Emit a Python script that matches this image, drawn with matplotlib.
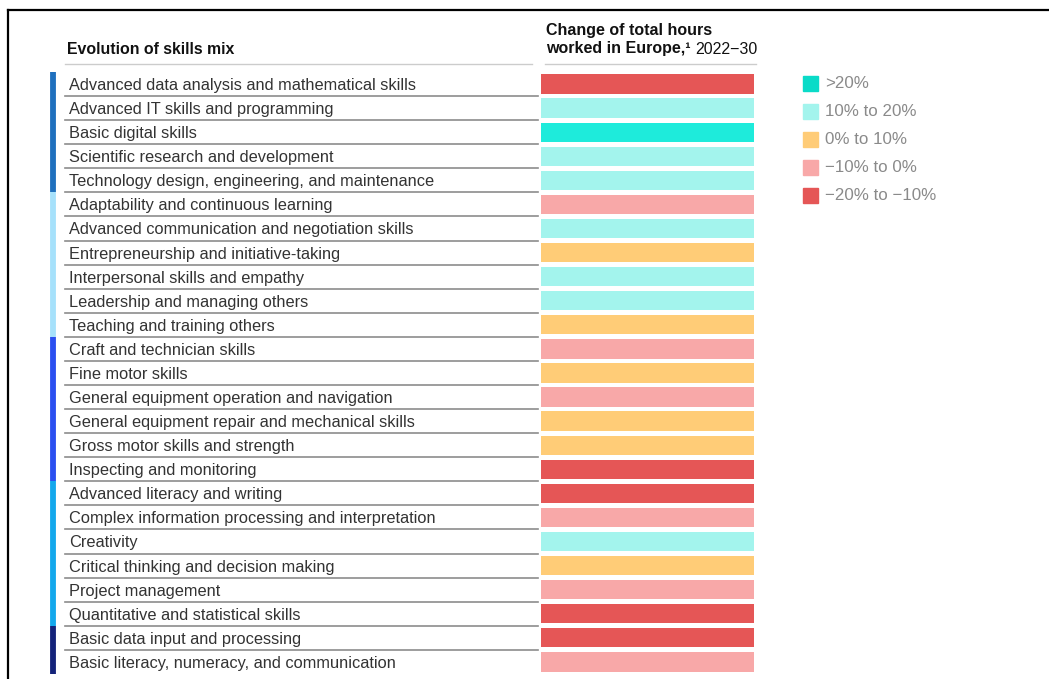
import matplotlib.pyplot as plt
from matplotlib.patches import Rectangle

plt.rcParams['font.family'] = ['Liberation Sans', 'DejaVu Sans']

skills = [
    "Advanced data analysis and mathematical skills",
    "Advanced IT skills and programming",
    "Basic digital skills",
    "Scientific research and development",
    "Technology design, engineering, and maintenance",
    "Adaptability and continuous learning",
    "Advanced communication and negotiation skills",
    "Entrepreneurship and initiative-taking",
    "Interpersonal skills and empathy",
    "Leadership and managing others",
    "Teaching and training others",
    "Craft and technician skills",
    "Fine motor skills",
    "General equipment operation and navigation",
    "General equipment repair and mechanical skills",
    "Gross motor skills and strength",
    "Inspecting and monitoring",
    "Advanced literacy and writing",
    "Complex information processing and interpretation",
    "Creativity",
    "Critical thinking and decision making",
    "Project management",
    "Quantitative and statistical skills",
    "Basic data input and processing",
    "Basic literacy, numeracy, and communication",
]
# change bucket per skill: 0 = >20%, 1 = 10-20, 2 = 0-10, 3 = -10-0, 4 = -20 to -10
buckets = [4, 1, 0, 1, 1, 3, 1, 2, 1, 1, 2, 3, 2, 3, 2, 2, 4, 4, 3, 1, 2, 3, 4, 4, 3]
bucket_labels = [">20%", "10% to 20%", "0% to 10%", "\u221210% to 0%", "\u221220% to \u221210%"]
bucket_colors = ["#1eebdb", "#a3f4ed", "#ffcc77", "#f8a8a8", "#e55656"]
legend_colors = ["#0adbc8", "#a3f4ed", "#ffcc77", "#f8a8a8", "#e55656"]

# skill groups: (first row, last row, colour)
group_starts = [0, 5, 11, 17, 23]
group_ends = [4, 10, 16, 22, 24]
group_colors = ["#1f70be", "#a6e1fb", "#2b4ff0", "#14a8ec", "#14237a"]

W, H = 1049, 679
fig = plt.figure(figsize=(W / 100, H / 100), dpi=100)
ax = fig.add_axes([0, 0, 1, 1])
ax.set_xlim(0, W)
row0, pitch = 84, 24.08
ax.set_ylim((H - row0) / pitch, -row0 / pitch)
ax.axis('off')

rows = list(range(len(skills)))


def py(p):
    # pixel row -> data y
    return (p - row0) / pitch


# frame
ax.plot([8, W], [py(10)] * 2, color='black', lw=1.6, clip_on=False)
ax.plot([8, 8], [py(10), py(H)], color='black', lw=1.6)

# headers
ax.text(67, py(49), "Evolution of skills mix", fontsize=11.4,
        fontweight='bold', va='center', color='#111111')
ax.text(546, py(31), "Change of total hours", fontsize=11.5,
        fontweight='bold', va='center', color='#111111')
t = ax.text(546, py(49), "worked in Europe,\u00b9", fontsize=11.5,
            fontweight='bold', va='center', color='#111111')
fig.canvas.draw()
bb = t.get_window_extent().transformed(ax.transData.inverted())
ax.text(bb.x1 + 5, py(49), "2022\u221230", fontsize=11.5,
        va='center', color='#111111')
ax.plot([65, 532], [py(64)] * 2, color='#cccccc', lw=1)
ax.plot([545, 756], [py(64)] * 2, color='#cccccc', lw=1)

# labels and separators
for i, s in enumerate(skills):
    ax.text(69, i + 0.06, s, fontsize=11.8, va='center', color='#333333')
    if i < len(skills) - 1:
        ax.plot([65, 538], [i + 0.5, i + 0.5], color='#8c8c8c', lw=1.2)

# group markers
for a, b, c in zip(group_starts, group_ends, group_colors):
    ax.plot([53, 53], [a - 0.5, b + 0.5], color=c, lw=4.2, solid_capstyle='butt')

# bars
ax.barh(rows, 213, left=541, height=0.8,
        color=[bucket_colors[b] for b in buckets])

# legend
for k, (lab, c) in enumerate(zip(bucket_labels, legend_colors)):
    y = py(83 + 28 * k)
    ax.add_patch(Rectangle((803, y - 7.5 / pitch), 15, 15 / pitch, color=c))
    ax.text(825, y + 0.04, lab, fontsize=12.2, va='center', color='#8a8a8a')

fig.savefig("out.png", dpi=100)
